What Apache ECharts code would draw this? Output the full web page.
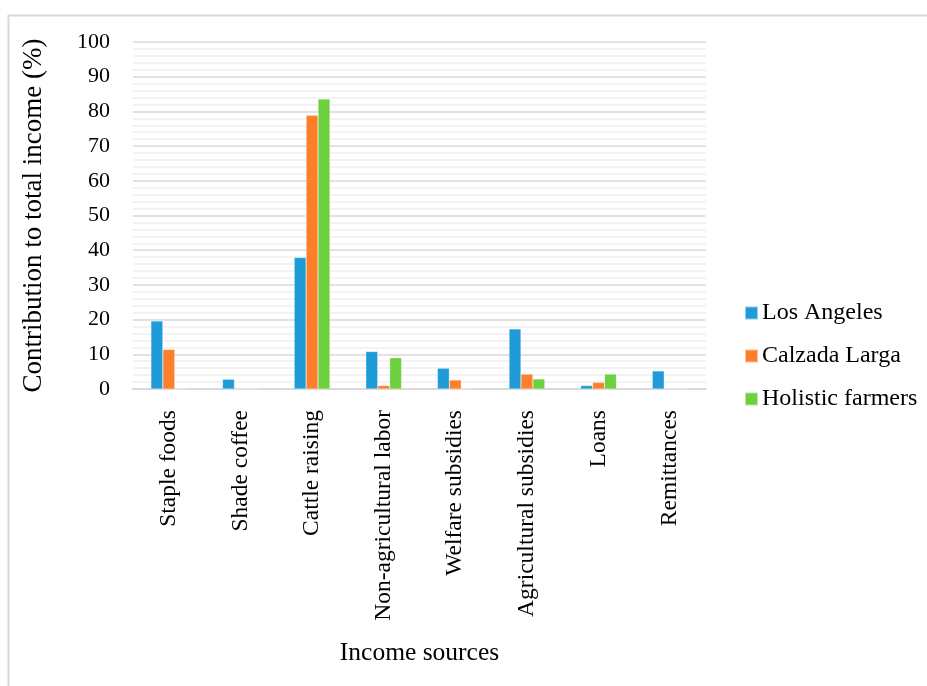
<!DOCTYPE html>
<html>
<head>
<meta charset="utf-8">
<script src="https://cdn.jsdelivr.net/npm/echarts@6/dist/echarts.min.js"></script>
<style>
html,body{margin:0;padding:0;background:#fff;}
#chart{width:927px;height:686px;}
</style>
</head>
<body>
<div id="chart"></div>
<script>
const categories = ["Staple foods","Shade coffee","Cattle raising","Non-agricultural labor","Welfare subsidies","Agricultural subsidies","Loans","Remittances"];
const losAngeles = [19.6, 2.8, 37.9, 10.8, 6.0, 17.3, 1.0, 5.2];
const calzadaLarga = [11.4, 0, 78.9, 1.0, 2.6, 4.3, 1.9, 0];
const holisticFarmers = [0, 0, 83.6, 9.0, 0, 2.9, 4.3, 0];
const seriesNames = ["Los Angeles","Calzada Larga","Holistic farmers"];
const colors = ["#1f9bd7","#fe7f2a","#6dd03f"];

const FONT = "Liberation Serif";
const chart = echarts.init(document.getElementById('chart'));
const dataSets = [losAngeles, calzadaLarga, holisticFarmers];
chart.setOption({
  animation: false,
  textStyle: {fontFamily: FONT, color: '#000'},
  graphic: [{
    type: 'rect', silent: true, z: -1,
    shape: {x: 8.5, y: 15.5, width: 940, height: 700},
    style: {fill: 'none', stroke: '#d9d9d9', lineWidth: 2}
  }],
  grid: {left: 133, right: 221, top: 42, bottom: 297},
  legend: {
    orient: 'vertical', left: 739, top: 296,
    itemWidth: 13, itemHeight: 13, itemGap: 19,
    icon: 'rect',
    textStyle: {fontFamily: FONT, fontSize: 24, color: '#000', padding: [0,0,0,-1]},
    data: seriesNames
  },
  xAxis: {
    type: 'category', data: categories,
    axisLine: {lineStyle: {color: '#d9d9d9', width: 2}},
    axisTick: {show: false},
    axisLabel: {rotate: 90, margin: 21, fontSize: 23.5, color: '#000', fontFamily: FONT, interval: 0},
    name: 'Income sources', nameLocation: 'middle', nameGap: 251,
    nameTextStyle: {fontSize: 25.5, color: '#000', fontFamily: FONT}
  },
  yAxis: {
    type: 'value', min: 0, max: 100, interval: 10,
    axisLine: {show: false}, axisTick: {show: false},
    axisLabel: {margin: 23, fontSize: 22, color: '#000', fontFamily: FONT},
    splitLine: {lineStyle: {color: '#d9d9d9', width: 1.5}},
    minorTick: {show: false, splitNumber: 5},
    minorSplitLine: {show: true, lineStyle: {color: '#efefef', width: 1.5}},
    name: 'Contribution to total income (%)', nameLocation: 'middle', nameGap: 86,
    nameTextStyle: {fontSize: 27, color: '#000', fontFamily: FONT}
  },
  series: dataSets.map((d, i) => ({
    name: seriesNames[i], type: 'bar', data: d,
    barGap: '0%', barCategoryGap: '50%',
    itemStyle: {color: colors[i], borderColor: 'rgba(255,255,255,0.5)', borderWidth: 0.5}
  }))
});
</script>
</body>
</html>
